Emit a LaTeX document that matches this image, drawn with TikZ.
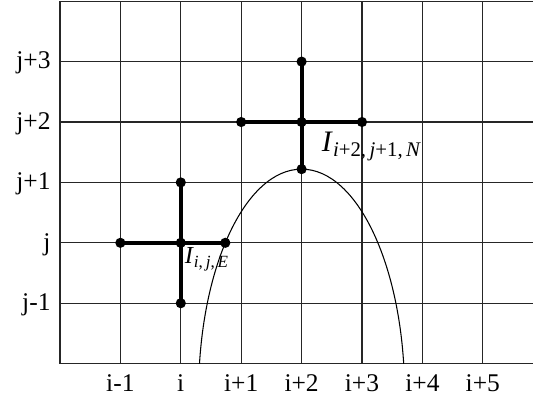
\documentclass[tikz,border=0pt]{standalone}
\usepackage{fontspec}
\setmainfont{Liberation Serif}
\begin{document}
\begin{tikzpicture}[x=1cm,y=1cm,
  gridline/.style={line width=0.5pt,black!85},
  stencil/.style={line width=1.9pt,black},
  dot/.style={circle,fill=black,inner sep=0pt,minimum size=4.8pt},
  lab/.style={inner sep=0pt,font=\fontsize{12}{14}\selectfont},
  curve/.style={line width=0.5pt,black}]
\useasboundingbox (-0.993,-0.584) rectangle (7.831,6.02);
% grid
\begin{scope}
\clip (-0.993,-0.584) rectangle (7.831,6.02);
\foreach \r in {0,...,6} \draw[gridline] (0,\r) -- (8.5,\r);
\foreach \c in {0,...,7} \draw[gridline] (\c,0) -- (\c,6);
\end{scope}
% curve
\begin{scope}
\clip (0,0) rectangle (7.831,6);
\draw[curve] (4,-0.5) ellipse (1.7055 and 3.72);
\end{scope}
% axis labels
\node[lab,anchor=base east] (lj3) at (-0.15,4.88) {j+3};
\node[lab,anchor=base east] (lj2) at (-0.15,3.88) {j+2};
\node[lab,anchor=base east] (lj1) at (-0.15,2.88) {j+1};
\node[lab,anchor=base east] (lj0) at (-0.15,1.88) {j};
\node[lab,anchor=base east] (ljm) at (-0.15,0.88) {j-1};
\node[lab,anchor=base] (lim) at (1,-0.464) {i-1};
\node[lab,anchor=base] (li0) at (2,-0.464) {i};
\node[lab,anchor=base] (li1) at (3,-0.464) {i+1};
\node[lab,anchor=base] (li2) at (4,-0.464) {i+2};
\node[lab,anchor=base] (li3) at (5,-0.464) {i+3};
\node[lab,anchor=base] (li4) at (6,-0.464) {i+4};
\node[lab,anchor=base] (li5) at (7,-0.464) {i+5};
% stencil 1
\node[dot] (aW) at (1,2) {};
\node[dot] (aC) at (2,2) {};
\node[dot] (aE) at (2.737,2) {};
\node[dot] (aS) at (2,1) {};
\node[dot] (aN) at (2,3) {};
\draw[stencil] (aW.center) -- (aE.center);
\draw[stencil] (aS.center) -- (aN.center);
% stencil 2
\node[dot] (bW) at (3,4) {};
\node[dot] (bC) at (4,4) {};
\node[dot] (bE) at (5,4) {};
\node[dot] (bS) at (4,3.22) {};
\node[dot] (bN) at (4,5) {};
\draw[stencil] (bW.center) -- (bE.center);
\draw[stencil] (bS.center) -- (bN.center);
% labels
\node[inner sep=0pt,anchor=base west,font=\fontsize{11.5}{14}\selectfont] (la) at (2.06,1.65) {\textit{I}\textsubscript{\textit{i},\,\textit{j},\,\textit{E}}};
\node[inner sep=0pt,anchor=base west,font=\fontsize{14}{17}\selectfont] (lb) at (4.33,3.51) {\textit{I}\textsubscript{\textit{i}+2,\,\textit{j}+1,\,\textit{N}}};
\end{tikzpicture}
\end{document}
